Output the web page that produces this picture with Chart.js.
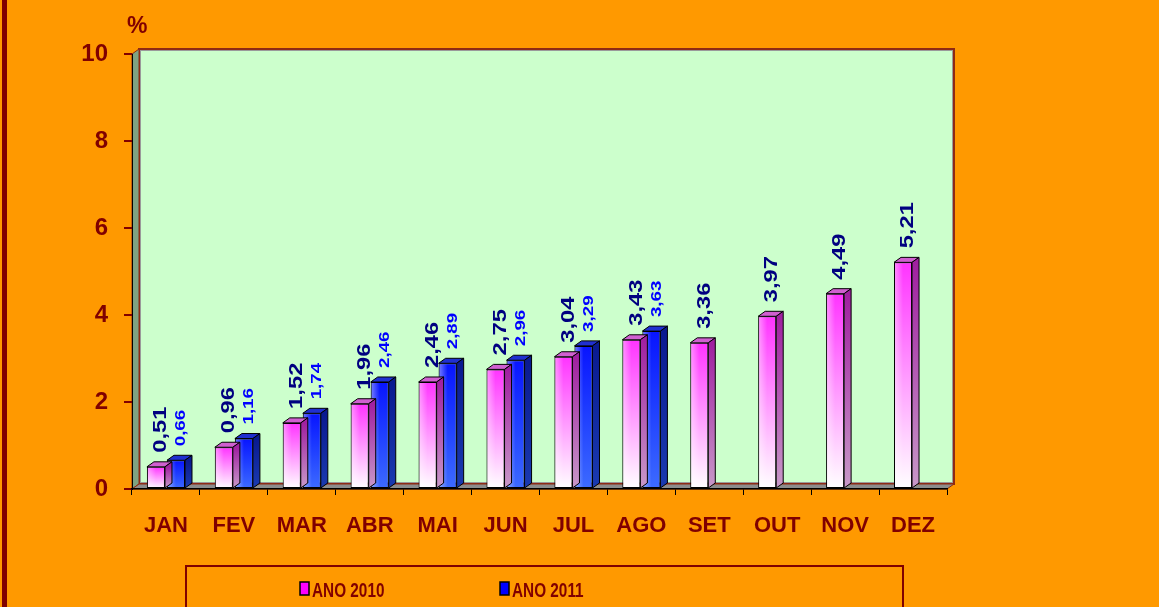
<!DOCTYPE html>
<html>
<head>
<meta charset="utf-8">
<script src="https://cdn.jsdelivr.net/npm/chart.js@4.4.1/dist/chart.umd.min.js"></script>
<style>
  html, body { margin: 0; padding: 0; background: #ff9900; }
  canvas { display: block; }
</style>
</head>
<body>
<canvas id="chart" width="1159" height="607"></canvas>
<script>
const months = ['JAN', 'FEV', 'MAR', 'ABR', 'MAI', 'JUN', 'JUL', 'AGO', 'SET', 'OUT', 'NOV', 'DEZ'];
const ano2010 = [0.51, 0.96, 1.52, 1.96, 2.46, 2.75, 3.04, 3.43, 3.36, 3.97, 4.49, 5.21];
const ano2011 = [0.66, 1.16, 1.74, 2.46, 2.89, 2.96, 3.29, 3.63, null, null, null, null];
const yTicks = [0, 2, 4, 6, 8, 10];
const seriesNames = ['ANO 2010', 'ANO 2011'];

const DX = 7, DY = 5;
const DARK_RED = '#800000';
const FONT = '"Liberation Sans", Arial, sans-serif';

// face colours for the fake 3d bars
const looks = [
  { front: ['#ff33ff', '#ff99ff', '#ffffff'], side: ['#a020a0', '#c898c8'], top: '#d060d0', label: '#000080', size: 19, key: '#ff00ff' },
  { front: ['#0814ff', '#2040ff', '#3d6bff'], side: ['#0a1a90', '#1a3ab0'], top: '#2030d0', label: '#0000ff', size: 15, key: '#0000ff' },
];

function frontFill(c) {
  const look = looks[c.datasetIndex];
  const chart = c.chart;
  const v = c.parsed ? c.parsed.y : null;
  if (v == null || !chart.chartArea) return look.front[0];
  const ys = chart.scales.y;
  const g = chart.ctx.createLinearGradient(0, ys.getPixelForValue(v), 0, ys.getPixelForValue(0));
  g.addColorStop(0, look.front[0]);
  g.addColorStop(0.5, look.front[1]);
  g.addColorStop(1, look.front[2]);
  return g;
}

const scenery = {
  id: 'scenery',
  beforeDraw(chart) {
    const { ctx, chartArea: a } = chart;
    ctx.save();
    ctx.fillStyle = '#ff9900';
    ctx.fillRect(0, 0, chart.width, chart.height);
    ctx.fillStyle = DARK_RED;
    ctx.fillRect(2, 0, 5, chart.height);

    // back wall
    ctx.fillStyle = '#ccffcc';
    ctx.fillRect(a.left + DX, a.top - DY, a.right - a.left, a.bottom - a.top);
    ctx.strokeStyle = '#9a9a9a';
    ctx.lineWidth = 1;
    ctx.strokeRect(a.left + DX + 1.5, a.top - DY + 1.5, a.right - a.left - 3, a.bottom - a.top - 3);
    ctx.strokeStyle = '#8e2a14';
    ctx.lineWidth = 2;
    ctx.strokeRect(a.left + DX, a.top - DY, a.right - a.left, a.bottom - a.top);

    // left wall
    ctx.lineWidth = 1;
    ctx.beginPath();
    ctx.moveTo(a.left, a.top);
    ctx.lineTo(a.left + DX, a.top - DY);
    ctx.lineTo(a.left + DX, a.bottom - DY);
    ctx.lineTo(a.left, a.bottom);
    ctx.closePath();
    ctx.fillStyle = '#7fa381';
    ctx.fill();
    ctx.stroke();

    // floor
    ctx.beginPath();
    ctx.moveTo(a.left, a.bottom);
    ctx.lineTo(a.left + DX, a.bottom - DY);
    ctx.lineTo(a.right + DX, a.bottom - DY);
    ctx.lineTo(a.right, a.bottom);
    ctx.closePath();
    ctx.fillStyle = '#8c8c8c';
    ctx.fill();
    ctx.stroke();

    // unit
    ctx.fillStyle = DARK_RED;
    ctx.font = 'bold 23px ' + FONT;
    ctx.textBaseline = 'alphabetic';
    ctx.fillText('%', 127, 33);

    // legend box
    ctx.strokeStyle = DARK_RED;
    ctx.lineWidth = 2;
    ctx.strokeRect(186, 566, 717, 60);
    ctx.font = 'bold 21px ' + FONT;
    const keyX = [300, 500];
    seriesNames.forEach((name, i) => {
      ctx.fillStyle = looks[i].key;
      ctx.fillRect(keyX[i], 582, 9, 13);
      ctx.strokeStyle = '#000';
      ctx.lineWidth = 1.5;
      ctx.strokeRect(keyX[i], 582, 9, 13);
      // narrow lettering
      ctx.save();
      ctx.translate(keyX[i] + 12, 597);
      ctx.scale(0.73, 1);
      ctx.fillStyle = DARK_RED;
      ctx.fillText(name, 0, 0);
      ctx.restore();
    });
    ctx.restore();
  },
  beforeDatasetDraw(chart) {
    const ctx = chart.ctx;
    ctx.save();
    ctx.shadowColor = 'rgba(0,0,0,0.35)';
    ctx.shadowBlur = 3;
    ctx.shadowOffsetX = -1;
    ctx.shadowOffsetY = 1;
  },
  afterDatasetDraw(chart, args) {
    const ctx = chart.ctx;
    ctx.restore();
    const look = looks[args.index];
    ctx.save();
    ctx.strokeStyle = '#000';
    ctx.lineWidth = 1;
    args.meta.data.forEach((el, i) => {
      if (chart.data.datasets[args.index].data[i] == null) return;
      const { x, y, base, width } = el.getProps(['x', 'y', 'base', 'width'], true);
      const L = x - width / 2, R = x + width / 2;
      // light strip on the left of the front face
      const hl = ctx.createLinearGradient(L, 0, x, 0);
      hl.addColorStop(0, 'rgba(255,255,255,0.45)');
      hl.addColorStop(1, 'rgba(255,255,255,0)');
      ctx.fillStyle = hl;
      ctx.fillRect(L + 1, y + 1, width / 2, base - y - 2);
      // top
      ctx.beginPath();
      ctx.moveTo(L, y);
      ctx.lineTo(L + DX, y - DY);
      ctx.lineTo(R + DX, y - DY);
      ctx.lineTo(R, y);
      ctx.closePath();
      ctx.fillStyle = look.top;
      ctx.fill();
      ctx.stroke();
      // side
      const sg = ctx.createLinearGradient(0, y, 0, base);
      sg.addColorStop(0, look.side[0]);
      sg.addColorStop(1, look.side[1]);
      ctx.beginPath();
      ctx.moveTo(R, y);
      ctx.lineTo(R + DX, y - DY);
      ctx.lineTo(R + DX, base - DY);
      ctx.lineTo(R, base);
      ctx.closePath();
      ctx.fillStyle = sg;
      ctx.fill();
      ctx.stroke();
    });
    ctx.restore();
  },
  afterDatasetsDraw(chart) {
    const ctx = chart.ctx;
    ctx.save();
    chart.data.datasets.forEach((ds, di) => {
      const look = looks[di];
      chart.getDatasetMeta(di).data.forEach((el, i) => {
        const v = ds.data[i];
        if (v == null) return;
        ctx.save();
        ctx.translate(el.x + 5, el.y - 14);
        ctx.rotate(-Math.PI / 2);
        ctx.scale(1.25, 1); // labels are drawn stretched along their length
        ctx.font = 'bold ' + look.size + 'px ' + FONT;
        ctx.fillStyle = look.label;
        ctx.textAlign = 'left';
        ctx.textBaseline = 'middle';
        ctx.fillText(v.toFixed(2).replace('.', ','), 0, 0);
        ctx.restore();
      });
    });
    ctx.restore();
  },
};

new Chart(document.getElementById('chart'), {
  type: 'bar',
  data: {
    labels: months,
    datasets: [
      { label: seriesNames[0], data: ano2010 },
      { label: seriesNames[1], data: ano2011 },
    ].map(d => Object.assign(d, {
      backgroundColor: frontFill,
      borderColor: '#000',
      borderWidth: 1,
      borderSkipped: false,
      categoryPercentage: 0.59,
      barPercentage: 0.9,
    })),
  },
  options: {
    responsive: false,
    animation: false,
    events: [],
    layout: { padding: { top: 54, right: 212, left: 0, bottom: 0 } },
    plugins: { legend: { display: false }, tooltip: { enabled: false } },
    scales: {
      x: {
        afterFit: s => { s.height = 118; },
        grid: { display: true, drawOnChartArea: false, color: '#000', tickLength: 6, lineWidth: 1 },
        border: { color: '#000', width: 1.5 },
        ticks: { color: DARK_RED, font: { family: FONT, size: 22, weight: 'bold' }, padding: 18, maxRotation: 0 },
      },
      y: {
        min: yTicks[0],
        max: yTicks[yTicks.length - 1],
        afterFit: s => { s.width = 132; },
        afterBuildTicks: s => { s.ticks = yTicks.map(v => ({ value: v })); },
        grid: { display: true, drawOnChartArea: false, color: DARK_RED, tickLength: 8, lineWidth: 2 },
        border: { color: '#000', width: 1 },
        ticks: { color: DARK_RED, font: { family: FONT, size: 24, weight: 'bold' }, padding: 16 },
      },
    },
  },
  plugins: [scenery],
});
</script>
</body>
</html>
